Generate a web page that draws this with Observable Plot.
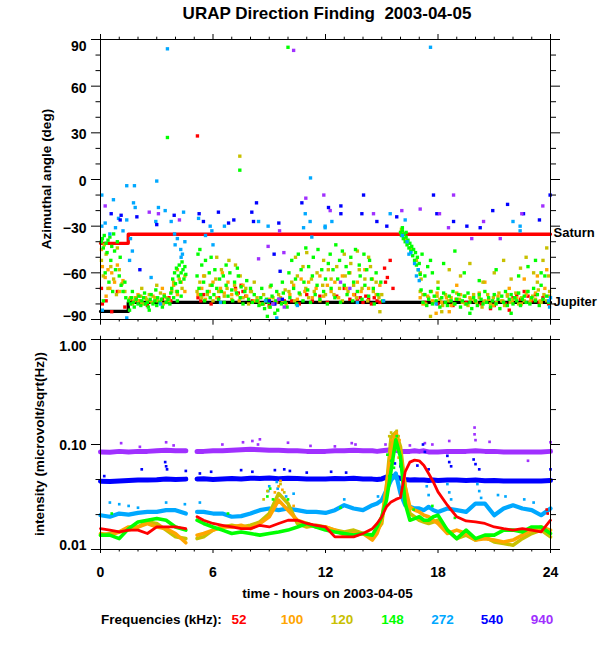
<!DOCTYPE html>
<html>
<head>
<meta charset="utf-8">
<script src="https://cdn.jsdelivr.net/npm/d3@7"></script>
<script src="https://cdn.jsdelivr.net/npm/@observablehq/plot@0.6"></script>
<style>
  html, body { margin: 0; padding: 0; background: white; }
  #wrap { position: relative; width: 600px; height: 650px; overflow: hidden; background: white;
          font-family: "Liberation Sans", Arial, sans-serif; color: black; }
  #title { position: absolute; left: 0; width: 654px; top: 5px; text-align: center; font-size: 17px;
           font-weight: bold; line-height: 17px; white-space: pre; z-index: 2; }
  #toppanel { position: absolute; left: 0; top: 0; }
  #bottompanel { position: absolute; left: 0; top: 330px; }
  #legend { position: absolute; left: 0; top: 612px; width: 600px; height: 16px; font-size: 13.5px; font-weight: bold; line-height: 16px; z-index: 2; }
  #legend span { position: absolute; top: 0; white-space: pre; }
  .ylab { position: absolute; font-size: 13.5px; font-weight: bold; line-height: 16px; white-space: pre;
          transform: translate(-50%, -50%) rotate(-90deg); z-index: 2; }
</style>
</head>
<body>
<div id="wrap">
  <div id="toppanel"></div>
  <div id="bottompanel"></div>
  <div id="title"></div>
  <div id="ylabtop" class="ylab" style="left:47px; top:179px;"></div>
  <div id="ylabbottom" class="ylab" style="left:39.5px; top:444px;"></div>
  <div id="legend"></div>
</div>
<script>
(function () {
const titleText = "URAP Direction Finding  2003-04-05";
const xLabel = "time - hours on 2003-04-05";
const yLabelTop = "Azimuthal angle (deg)";
const yLabelBottom = "intensity (microvolt/sqrt(Hz))";
const legendTitle = "Frequencies (kHz):";

const freqs = ["52", "100", "120", "148", "272", "540", "940"];
const colors = ["#ff0000", "#ffa500", "#c8c000", "#00ff00", "#00a8ff", "#0000ff", "#a030ff"];

const hourTicks = [0, 6, 12, 18, 24];
const hourMinor = [1,2,3,4,5,7,8,9,10,11,13,14,15,16,17,19,20,21,22,23];
const angleTicks = [-90, -60, -30, 0, 30, 60, 90];
const angleMinor = [-80,-70,-50,-40,-20,-10,10,20,40,50,70,80];
const intensityTicks = [0.01, 0.1, 1];
const intensityMinor = [0.0215, 0.0464, 0.215, 0.464];

// planet directions
const planetT = [0, 1.48, 24];
const saturnA = [-41, -35.2, -35.2];
const jupiterA = [-84.8, -79, -79];

// azimuth points [hour, angle] per frequency
const az52 = [[0.05,-70],[0.1,-80],[0.3,-78],[0.6,-85],[0.9,-72],[1.3,-82],[1.6,-77],[1.75,-79],[1.9,-76],[2.05,-78],[2.5,-81],[3.3,-77],[3.5,-79],[3.65,-76],[3.75,-78],[5.17,28],[5.2,-76],[5.35,-78],[5.5,-74],[5.9,-80],[6.3,-76],[7.2,-70],[7.35,-73],[7.5,-68],[7.6,-72],[7.75,-75],[8.1,-78],[8.6,-80],[9.0,-81],[9.4,-79],[9.8,-78],[10.2,-78],[10.6,-80],[11.0,-74],[11.3,-78],[11.7,-75],[12.1,-79],[12.6,-75],[13.0,-70],[13.3,-77],[13.55,-74],[13.7,-78],[13.85,-76],[14.0,-79],[14.15,-75],[14.3,-77],[14.45,-80],[14.6,-76],[14.75,-78],[14.9,-79],[15.15,-57],[15.3,-63],[15.45,-52],[15.6,-70],[15.2,-66],[17.3,-79],[18.0,-80],[18.8,-81],[19.5,-79],[20.3,-80],[20.8,-83],[21.0,-81],[21.6,-80],[21.8,-84],[22.0,-76],[22.2,-74],[22.4,-77],[22.6,-72],[22.8,-75],[23.0,-78],[23.2,-74],[23.4,-79],[23.6,-76],[23.9,-80]];

const az100 = [[0.05,-45],[0.1,-56],[0.25,-63],[0.3,-75],[0.4,-58],[0.5,-70],[0.6,-60],[0.75,-66],[0.9,-55],[1.0,-72],[1.2,-65],[1.6,-76],[1.8,-78],[2.0,-74],[2.2,-79],[2.4,-76],[2.6,-78],[2.8,-75],[3.0,-77],[3.2,-79],[3.3,-70],[3.4,-74],[3.6,-77],[3.9,-68],[4.1,-74],[4.3,-66],[4.5,-72],[5.2,-74],[5.4,-70],[5.5,-62],[5.6,-77],[5.8,-72],[6.0,-66],[6.2,-76],[6.4,-70],[6.5,-60],[6.6,-73],[6.8,-66],[7.0,-74],[7.2,-71],[7.4,-78],[7.6,-68],[7.8,-75],[8.0,-72],[8.2,-78],[8.4,-78],[8.7,-80],[9.0,-77],[9.3,-79],[9.6,-76],[9.9,-80],[10.1,-74],[10.3,-68],[10.5,-77],[10.7,-64],[10.9,-72],[11.1,-66],[11.3,-76],[11.5,-70],[11.7,-62],[11.9,-75],[12.1,-68],[12.3,-72],[12.5,-66],[12.7,-76],[12.9,-62],[13.1,-70],[13.3,-60],[13.5,-74],[13.7,-66],[13.9,-72],[14.1,-58],[14.3,-70],[14.5,-64],[14.7,-74],[14.9,-68],[17.05,-76],[17.2,-80],[17.45,-75],[17.7,-78],[17.9,-86],[17.95,-73],[18.2,-79],[18.45,-76],[18.6,-85],[18.7,-81],[18.95,-77],[19.0,-68],[19.2,-74],[19.45,-80],[19.7,-76],[19.95,-78],[20.2,-73],[20.45,-79],[20.5,-66],[20.7,-77],[20.95,-81],[21.2,-75],[21.45,-78],[21.7,-74],[21.8,-70],[21.95,-79],[22.2,-76],[22.45,-80],[22.6,-64],[22.7,-74],[22.95,-77],[23.2,-73],[23.3,-62],[23.45,-78],[23.7,-70],[23.8,-58],[23.95,-75]];

const az120 = [[0.05,-52],[0.15,-62],[0.2,-42],[0.3,-48],[0.4,-70],[0.55,-56],[0.7,-64],[0.85,-74],[0.9,-44],[1.0,-58],[1.15,-67],[1.3,-72],[1.55,-77],[1.7,-80],[1.85,-76],[2.0,-78],[2.15,-75],[2.2,-70],[2.3,-80],[2.45,-77],[2.6,-74],[2.75,-79],[2.9,-76],[3.0,-68],[3.05,-78],[3.2,-73],[3.35,-80],[3.5,-76],[3.65,-78],[3.8,-72],[3.9,-66],[4.05,-72],[4.1,-58],[4.2,-64],[4.35,-70],[4.5,-62],[5.15,-72],[5.3,-66],[5.4,-76],[5.55,-62],[5.7,-74],[5.85,-68],[6.0,-78],[6.15,-64],[6.2,-50],[6.3,-72],[6.45,-58],[6.6,-75],[6.75,-70],[6.85,-52],[7.0,-77],[7.15,-68],[7.2,-55],[7.3,-74],[7.43,15],[7.45,-62],[7.6,-76],[7.75,-70],[7.9,-80],[8.05,-72],[8.2,-66],[8.35,-76],[8.5,-80],[8.7,-74],[8.85,-78],[9.0,-82],[9.05,-69],[9.2,-76],[9.35,-79],[9.5,-74],[9.7,-78],[9.85,-71],[10.05,-72],[10.2,-66],[10.35,-78],[10.4,-50],[10.5,-62],[10.65,-74],[10.8,-56],[10.95,-70],[11.0,-47],[11.1,-76],[11.25,-64],[11.4,-72],[11.55,-60],[11.7,-78],[11.85,-68],[11.9,-52],[12.0,-74],[12.15,-58],[12.3,-64],[12.45,-74],[12.6,-56],[12.75,-70],[12.9,-78],[13.0,-48],[13.05,-62],[13.2,-72],[13.35,-54],[13.5,-68],[13.65,-76],[13.7,-46],[13.8,-58],[13.95,-70],[14.1,-64],[14.25,-78],[14.3,-50],[14.4,-56],[14.55,-72],[14.7,-66],[14.85,-76],[14.9,-85],[15.0,-74],[16.05,-32],[16.25,-38],[16.55,-44],[16.85,-52],[17.05,-60],[17.05,-72],[17.1,-64],[17.2,-74],[17.35,-80],[17.5,-76],[17.6,-88],[17.65,-72],[17.8,-79],[17.95,-75],[18.0,-66],[18.1,-77],[18.2,-85],[18.25,-81],[18.4,-74],[18.55,-78],[18.6,-58],[18.7,-76],[18.85,-80],[19.0,-73],[19.15,-77],[19.2,-62],[19.3,-79],[19.45,-75],[19.6,-81],[19.7,-54],[19.75,-77],[19.9,-74],[20.05,-79],[20.2,-76],[20.35,-82],[20.4,-66],[20.5,-78],[20.65,-74],[20.8,-80],[20.95,-76],[21.0,-60],[21.1,-79],[21.25,-73],[21.4,-78],[21.5,-52],[21.55,-81],[21.7,-75],[21.85,-79],[21.9,-64],[22.0,-77],[22.15,-73],[22.3,-80],[22.4,-57],[22.45,-76],[22.6,-78],[22.7,-50],[22.75,-72],[22.9,-79],[23.05,-75],[23.1,-60],[23.2,-77],[23.3,-66],[23.35,-71],[23.5,-79],[23.6,-52],[23.65,-74],[23.8,-78],[23.8,-44],[23.9,-62],[23.95,-72]];

const az148 = [[0.05,-40],[0.1,-38],[0.15,-44],[0.2,-36],[0.3,-41],[0.35,-47],[0.4,-39],[0.5,-37],[0.55,-52],[0.6,-43],[0.7,-35],[0.75,-46],[0.8,-58],[0.9,-40],[1.0,-62],[1.05,-50],[1.1,-68],[1.2,-72],[1.3,-66],[1.35,-76],[0.25,-60],[0.45,-66],[0.65,-72],[0.15,-78],[1.5,-78],[1.6,-80],[1.65,-76],[1.75,-79],[1.8,-82],[1.9,-77],[2.0,-80],[2.05,-75],[2.15,-81],[2.2,-78],[2.3,-76],[2.4,-80],[2.5,-79],[2.55,-82],[2.65,-77],[2.7,-74],[2.8,-80],[2.9,-78],[3.0,-81],[3.05,-76],[3.15,-79],[3.25,-77],[3.3,-82],[3.4,-75],[3.5,-79],[3.6,-77],[3.7,-80],[3.75,-73],[1.7,-72],[2.35,-73],[2.95,-71],[1.55,-84],[2.6,-84],[3.57,27],[3.8,-70],[3.85,-64],[3.9,-76],[3.95,-60],[4.0,-67],[4.05,-57],[4.1,-72],[4.15,-62],[4.2,-55],[4.25,-66],[4.3,-60],[4.35,-53],[4.4,-58],[4.45,-64],[4.5,-56],[4.55,-61],[4.1,-78],[4.3,-75],[5.15,-62],[5.2,-48],[5.25,-70],[5.3,-45],[5.35,-74],[5.4,-55],[5.5,-66],[5.55,-78],[5.6,-52],[5.7,-72],[5.8,-60],[5.85,-76],[5.95,-68],[6.05,-74],[6.1,-58],[6.2,-70],[6.3,-77],[6.35,-64],[6.45,-72],[6.55,-62],[6.6,-79],[6.7,-68],[6.8,-75],[6.9,-60],[7.0,-71],[7.05,-78],[7.15,-66],[7.25,-73],[7.35,-62],[7.45,-76],[7.5,-69],[7.6,-80],[7.7,-72],[7.8,-65],[7.9,-77],[8.0,-70],[8.1,-79],[8.2,-74],[5.9,-50],[6.7,-55],[7.3,-57],[7.43,6],[8.35,-78],[8.45,-81],[8.55,-76],[8.65,-80],[8.75,-83],[8.85,-77],[8.95,-79],[9.05,-82],[9.15,-75],[9.25,-80],[9.35,-78],[9.45,-84],[9.55,-77],[9.65,-80],[9.75,-73],[9.85,-79],[9.95,-82],[8.6,-70],[9.1,-68],[9.4,-72],[9.7,-66],[8.9,-88],[9.3,-86],[10.0,85],[10.05,-60],[10.1,-76],[10.2,-52],[10.3,-70],[10.4,-64],[10.45,-80],[10.55,-48],[10.6,-73],[10.7,-58],[10.8,-78],[10.85,-66],[10.95,-44],[11.05,-71],[11.1,-56],[11.2,-79],[11.3,-62],[11.35,-50],[11.45,-74],[11.55,-68],[11.6,-45],[11.7,-77],[11.8,-58],[11.9,-72],[12.0,-64],[12.1,-80],[12.15,-54],[12.25,-48],[12.3,-70],[12.4,-58],[12.5,-76],[12.55,-42],[12.65,-64],[12.75,-52],[12.8,-79],[12.9,-46],[13.0,-68],[13.1,-56],[13.15,-74],[13.25,-60],[13.35,-50],[13.45,-78],[13.5,-66],[13.6,-45],[13.7,-72],[13.8,-55],[13.85,-62],[13.95,-77],[14.05,-48],[14.1,-68],[14.2,-58],[14.3,-75],[14.35,-52],[14.45,-64],[14.55,-70],[14.6,-80],[14.7,-60],[14.8,-74],[14.95,-66],[15.05,-78],[16.0,-34],[16.05,-36],[16.1,-33],[16.1,-31],[16.15,-38],[16.2,-35],[16.25,-40],[16.3,-37],[16.3,-34],[16.35,-42],[16.4,-39],[16.45,-44],[16.5,-41],[16.55,-46],[16.6,-43],[16.65,-49],[16.7,-45],[16.75,-52],[16.8,-47],[16.85,-55],[16.9,-50],[16.95,-58],[17.0,-54],[17.05,-61],[17.15,-48],[17.3,-62],[17.45,-56],[17.6,-52],[17.7,-60],[17.1,-71],[17.2,-79],[17.3,-74],[17.4,-81],[17.5,-77],[17.6,-72],[17.7,-80],[17.8,-75],[17.9,-78],[18.0,-70],[18.1,-82],[18.2,-76],[18.3,-73],[18.3,-54],[18.4,-79],[18.5,-81],[18.6,-75],[18.7,-78],[18.8,-72],[18.9,-46],[18.9,-80],[19.0,-77],[19.1,-74],[19.2,-82],[19.3,-78],[19.4,-75],[19.4,-60],[19.5,-80],[19.6,-73],[19.7,-79],[19.7,-86],[19.8,-83],[19.9,-76],[20.0,-78],[20.1,-81],[20.2,-74],[20.2,-65],[20.3,-77],[20.4,-80],[20.5,-72],[20.6,-79],[20.7,-76],[20.8,-82],[20.9,-78],[21.0,-74],[21.1,-80],[21.1,-58],[21.2,-77],[21.3,-83],[21.4,-75],[21.5,-79],[21.6,-72],[21.7,-81],[21.8,-77],[21.9,-74],[21.9,-86],[22.0,-80],[22.1,-76],[22.2,-78],[22.3,-73],[22.3,-62],[22.4,-81],[22.5,-77],[22.6,-75],[22.7,-79],[22.8,-72],[22.8,-56],[22.9,-80],[23.0,-76],[23.1,-70],[23.2,-78],[23.2,-52],[23.3,-74],[23.4,-81],[23.5,-68],[23.5,-60],[23.6,-77],[23.7,-62],[23.8,-75],[23.9,-79]];

const az272 = [[0.07,-10],[0.69,-13],[0.25,-28],[0.07,-30],[0.96,-25],[1.4,-26],[1.4,-4],[1.81,-4],[1.76,-15],[1.85,-18],[0.5,-35],[0.8,-31],[1.2,-33],[1.6,-38],[1.7,-46],[1.55,-52],[0.1,-84],[1.4,-89],[2.95,-27],[3.0,-1],[3.09,-18],[3.45,-20],[3.57,84],[3.77,-27],[3.95,-35],[3.98,-42],[4.1,-38],[4.28,-45],[4.37,-48],[4.3,-50],[4.43,-21],[4.5,-40],[3.2,-80],[2.7,-63],[5.23,-25],[5.6,-36],[5.85,-30],[5.94,-33],[6.0,-42],[6.4,-79],[6.61,-30],[8.43,-27],[8.8,-78],[8.94,-30],[9.2,-80],[9.4,-89],[9.5,-77],[10.5,-81],[10.83,-31],[10.92,-22],[11.18,-27],[11.2,1],[11.27,-37],[11.98,-30],[12.34,-27],[11.98,-31],[13.7,-79],[15.1,-78],[15.45,-22],[16.25,-26],[16.1,-36],[16.35,-40],[16.45,-48],[16.55,-47],[16.75,-54],[16.85,-62],[16.95,-58],[17.0,-65],[17.6,85],[17.9,-80],[22.0,-27],[22.38,-30],[22.38,-33],[23.9,-78],[23.95,-82],[24.0,-76]];

const az540 = [[0.57,-22],[1.05,-26],[1.1,-23],[1.94,-24],[2.1,-58],[3.0,-29],[3.93,-23],[5.26,-22],[5.49,-27],[6.29,-21],[6.83,-28],[7.11,-26],[8.07,-21],[8.16,-27],[8.32,-15],[9.0,-78],[9.26,-48],[9.3,-80],[9.51,-28],[9.58,-59],[9.7,-77],[10.74,-15],[12.16,-18],[12.82,-17],[12.82,-22],[13.94,-22],[14.03,-10],[14.74,-27],[15.27,-30],[15.8,-24],[17.76,-10],[17.94,-22],[18.83,-27],[19.54,-30],[20.25,-31],[20.92,-20],[21.71,-16],[22.56,-22],[23.41,-26],[23.98,-10]];

const az940 = [[0.25,-17],[2.6,-21],[3.09,-22],[4.21,-26],[8.43,-51],[8.94,-43],[9.2,-80],[9.5,-77],[9.55,-33],[9.78,-47],[9.8,-82],[10.3,83],[10.95,-12],[11.91,-10],[12.25,-20],[12.8,-66],[13.3,-70],[14.56,-22],[16.07,-20],[17.05,-19],[18.08,-22],[18.56,-31],[18.83,-10],[19.8,-38],[20.43,-27],[21.32,-38],[22.47,-22],[23.59,-17]];

// intensity time grid (hours) and values per frequency (NaN = data gap)
const hours = [0,0.5,1,1.5,2,2.5,3,3.5,4,4.55,4.85,5.15,5.5,6,6.5,7,7.5,8,8.5,9,9.5,10,10.5,11,11.5,12,12.5,13,13.5,14,14.5,14.75,15,15.25,15.5,15.75,16,16.25,16.5,16.75,17,17.25,17.5,17.75,18,18.5,19,19.5,20,20.5,21,21.5,22,22.5,23,23.5,24];
const int52 = [0.0158,0.0153,0.0147,0.0153,0.0153,0.0142,0.0164,0.0164,0.0164,0.0158,NaN,0.0205,0.0190,0.0177,0.0170,0.0164,0.0158,0.0158,0.0170,0.0164,0.0177,0.0190,0.0190,0.0177,0.0170,0.0164,0.0132,0.0132,0.0132,0.0142,0.0158,0.0177,0.0205,0.0255,0.0284,0.0300,0.0313,0.0550,0.0680,0.0710,0.0700,0.0630,0.0530,0.0440,0.0354,0.0264,0.0205,0.0187,0.0183,0.0177,0.0164,0.0158,0.0153,0.0158,0.0153,0.0147,0.0190];
const int100 = [0.0142,0.0137,0.0147,0.0164,0.0164,0.0177,0.0164,0.0158,0.0142,0.0116,NaN,0.0137,0.0142,0.0153,0.0164,0.0164,0.0170,0.0158,0.0177,0.0205,0.0295,0.0237,0.0190,0.0177,0.0164,0.0164,0.0153,0.0137,0.0142,0.0142,0.0123,0.0142,0.0190,0.0395,0.0880,0.127,0.082,0.0395,0.0255,0.0237,0.0228,0.0212,0.0205,0.0190,0.0177,0.0142,0.0153,0.0142,0.0123,0.0127,0.0123,0.0118,0.0123,0.0137,0.0153,0.0164,0.0153];
const int120 = [0.0137,0.0142,0.0147,0.0153,0.0164,0.0183,0.0177,0.0153,0.0132,0.0127,NaN,0.0127,0.0132,0.0153,0.0164,0.0170,0.0164,0.0170,0.0183,0.0220,0.0341,0.0274,0.0177,0.0164,0.0170,0.0164,0.0153,0.0147,0.0153,0.0142,0.0132,0.0153,0.0177,0.0395,0.118,0.131,0.095,0.0395,0.0220,0.0205,0.0190,0.0183,0.0177,0.0183,0.0190,0.0153,0.0127,0.0137,0.0123,0.0132,0.0118,0.0114,0.0110,0.0127,0.0142,0.0153,0.0132];
const int148 = [0.0137,0.0137,0.0127,0.0158,0.0183,0.0190,0.0197,0.0190,0.0164,0.0153,NaN,0.0190,0.0177,0.0164,0.0153,0.0142,0.0147,0.0142,0.0137,0.0142,0.0147,0.0153,0.0164,0.0177,0.0164,0.0153,0.0147,0.0142,0.0137,0.0142,0.0137,0.0164,0.0205,0.0295,0.0569,0.111,0.0759,0.0274,0.0190,0.0197,0.0205,0.0190,0.0190,0.0205,0.0212,0.0153,0.0127,0.0153,0.0127,0.0137,0.0137,0.0153,0.0153,0.0147,0.0164,0.0164,0.0142];
const int272 = [0.0212,0.0205,0.0220,0.0215,0.0223,0.0228,0.0228,0.0237,0.0237,0.0220,NaN,0.0228,0.0228,0.0220,0.0220,0.0205,0.0208,0.0220,0.0237,0.0246,0.0237,0.0246,0.0237,0.0228,0.0228,0.0223,0.0237,0.0264,0.0246,0.0237,0.0264,0.0274,0.0295,0.0367,0.0457,0.0529,0.0341,0.0264,0.0255,0.0246,0.0246,0.0237,0.0255,0.0237,0.0228,0.0246,0.0237,0.0228,0.0274,0.0274,0.0212,0.0246,0.0264,0.0246,0.0237,0.0212,0.0246];
const int540 = [0.0447,0.0445,0.0450,0.0455,0.0460,0.0458,0.0462,0.0470,0.0465,0.0468,NaN,0.0470,0.0472,0.0465,0.0470,0.0475,0.0470,0.0478,0.0475,0.0480,0.0472,0.0478,0.0475,0.0470,0.0468,0.0470,0.0475,0.0472,0.0478,0.0470,0.0468,0.0465,0.0470,0.0490,0.0500,0.0490,0.0475,0.0465,0.0460,0.0462,0.0458,0.0460,0.0455,0.0458,0.0455,0.0460,0.0458,0.0455,0.0460,0.0452,0.0455,0.0450,0.0448,0.0450,0.0448,0.0450,0.0455];
const int940 = [0.0850,0.0845,0.0860,0.0850,0.0860,0.0860,0.0870,0.0880,0.0870,0.0870,NaN,0.0860,0.0860,0.0870,0.0870,0.0880,0.0890,0.0900,0.0890,0.0880,0.0880,0.0870,0.0870,0.0860,0.0860,0.0860,0.0870,0.0870,0.0880,0.0870,0.0870,0.0860,0.0870,0.0880,0.0890,0.0880,0.0860,0.0860,0.0860,0.0870,0.0860,0.0870,0.0850,0.0850,0.0850,0.0860,0.0860,0.0860,0.0870,0.0860,0.0860,0.0850,0.0850,0.0850,0.0850,0.0850,0.0860];

// scattered intensity samples above/below the bands [hour, value]
const spk52 = [[23.8,0.024],[23.85,0.022]];
const spk100 = [[9.3,0.035],[9.5,0.04],[9.6,0.045],[9.7,0.037],[10.3,0.026],[15.5,0.11],[15.65,0.12],[15.8,0.13],[15.95,0.11],[15.6,0.07],[15.9,0.075]];
const spk120 = [[8.7,0.03],[8.9,0.036],[9.6,0.042],[9.8,0.035],[15.4,0.12],[15.5,0.13],[15.6,0.125],[15.7,0.11],[15.8,0.135],[15.9,0.12],[15.45,0.1],[15.75,0.09]];
const spk148 = [[0.6,0.022],[6.8,0.022],[8.9,0.032],[9.05,0.038],[9.2,0.03],[10.0,0.03],[12.8,0.025],[15.3,0.08],[15.4,0.05],[15.5,0.07],[15.65,0.06],[15.8,0.12],[15.9,0.09],[16.0,0.065],[16.7,0.024],[17.7,0.026],[18.9,0.02]];
const spk272 = [[0.5,0.028],[1.0,0.027],[1.5,0.026],[2.0,0.025],[3.5,0.028],[4.5,0.027],[5.3,0.028],[8.95,0.036],[9.0,0.04],[9.4,0.044],[9.45,0.038],[9.9,0.032],[10.3,0.034],[13.0,0.03],[14.8,0.032],[16.1,0.045],[16.2,0.038],[17.4,0.04],[17.5,0.033],[18.5,0.042],[18.6,0.035],[18.7,0.03],[20.1,0.042],[20.2,0.036],[20.3,0.031],[21.2,0.033],[21.6,0.032],[22.6,0.03],[23.1,0.028]];
const spk540 = [[0.2,0.05],[2.2,0.058],[3.45,0.068],[3.5,0.062],[3.55,0.058],[4.55,0.056],[5.3,0.053],[5.9,0.055],[7.5,0.057],[8.1,0.055],[9.3,0.057],[9.8,0.058],[10.1,0.056],[11.0,0.054],[12.3,0.055],[13.1,0.054],[15.5,0.06],[15.7,0.066],[16.0,0.062],[16.9,0.063],[17.2,0.1],[17.3,0.085],[17.5,0.058],[18.5,0.078],[18.6,0.068],[18.7,0.062],[19.9,0.072],[20.0,0.065],[20.2,0.058],[24.0,0.058]];
const spk940 = [[1.1,0.103],[2.1,0.095],[3.5,0.105],[3.9,0.098],[6.5,0.1],[7.6,0.105],[8.1,0.108],[8.4,0.1],[8.5,0.112],[10.0,0.104],[11.2,0.097],[12.5,0.096],[13.4,0.103],[13.6,0.1],[15.2,0.1],[16.5,0.098],[17.3,0.103],[17.7,0.1],[18.6,0.108],[19.95,0.145],[19.95,0.125],[20.0,0.11],[20.75,0.106],[22.8,0.07],[24.0,0.105]];

const azBy = {"52": az52, "100": az100, "120": az120, "148": az148, "272": az272, "540": az540, "940": az940};
const intBy = {"52": int52, "100": int100, "120": int120, "148": int148, "272": int272, "540": int540, "940": int940};
const spkBy = {"52": spk52, "100": spk100, "120": spk120, "148": spk148, "272": spk272, "540": spk540, "940": spk940};

const font = "'Liberation Sans', Arial, Helvetica, sans-serif";
const colorScale = {domain: freqs, range: colors};
const chartStyle = {fontFamily: font, fontSize: "13.5px", fontWeight: "bold", background: "white", color: "black", overflow: "visible"};

// ---------- top panel ----------
const azRows = freqs.flatMap(f => azBy[f].map(([t, a]) => ({t, a, f})));
const planets = planetT.map((t, i) => ({t, s: saturnA[i], j: jupiterA[i]}));
const tickOnly = () => "";

const topChart = Plot.plot({
  width: 600, height: 330,
  marginLeft: 100, marginRight: 50, marginTop: 39, marginBottom: 11,
  x: {domain: [0, 24]},
  y: {domain: [-90, 90]},
  color: colorScale,
  style: chartStyle,
  marks: [
    Plot.line(planets, {x: "t", y: "s", curve: "step-after", stroke: "#ff0000", strokeWidth: 3.3}),
    Plot.line(planets, {x: "t", y: "j", curve: "step-after", stroke: "black", strokeWidth: 3.3}),
    Plot.dot(azRows, {x: "t", y: "a", fill: "f", r: 1.9, symbol: "square"}),
    Plot.frame({stroke: "black"}),
    Plot.axisY(angleTicks, {anchor: "left", tickSize: 9, tickFormat: tickOnly, label: null}),
    Plot.axisY(angleMinor, {anchor: "left", tickSize: 4.5, tickFormat: tickOnly, label: null}),
    Plot.axisY(angleTicks, {anchor: "right", tickSize: 9, tickFormat: tickOnly, label: null}),
    Plot.axisY(angleMinor, {anchor: "right", tickSize: 5, tickFormat: tickOnly, label: null}),
    Plot.axisY([90], {anchor: "left", tickSize: 0, tickPadding: 14, dy: 6.7, fontSize: 14, label: null}),
    Plot.axisY([60, 30, 0, -30, -60], {anchor: "left", tickSize: 0, tickPadding: 14, dy: 2, fontSize: 14, label: null}),
    Plot.axisY([-90], {anchor: "left", tickSize: 0, tickPadding: 14, dy: -3, fontSize: 14, label: null}),
    Plot.axisX(hourTicks, {anchor: "top", tickSize: 6, tickFormat: tickOnly, label: null}),
    Plot.axisX(hourMinor, {anchor: "top", tickSize: 3.3, tickFormat: tickOnly, label: null}),
    Plot.axisX(hourTicks, {anchor: "bottom", tickSize: 5.7, tickFormat: tickOnly, label: null}),
    Plot.axisX(hourMinor, {anchor: "bottom", tickSize: 2.5, tickFormat: tickOnly, label: null}),
    Plot.text(["Saturn"], {x: [24], y: [saturnA[saturnA.length - 1]], text: d => d, textAnchor: "start", dx: 3, dy: -1, fontSize: 13}),
    Plot.text(["Jupiter"], {x: [24], y: [jupiterA[jupiterA.length - 1]], text: d => d, textAnchor: "start", dx: 3, dy: -1, fontSize: 13})
  ]
});
document.getElementById("toppanel").appendChild(topChart);

// ---------- bottom panel ----------
const drawOrder = ["940", "540", "272", "120", "100", "148", "52"];
const widths = {"940": 5, "540": 5, "272": 4.2, "120": 3.6, "100": 3.6, "148": 3.6, "52": 2.8};
const lineMarks = [];
for (const f of drawOrder) {
  const rows = hours.map((t, i) => ({t, v: intBy[f][i], f}));
  lineMarks.push(Plot.line(rows, {x: "t", y: "v", stroke: "f", strokeWidth: widths[f]}));
  const sp = spkBy[f].map(([t, v]) => ({t, v, f}));
  lineMarks.push(Plot.dot(sp, {x: "t", y: "v", fill: "f", r: 1.5, symbol: "square"}));
}

const bottomChart = Plot.plot({
  width: 600, height: 320,
  marginLeft: 100, marginRight: 50, marginTop: 9, marginBottom: 101,
  x: {domain: [0, 24]},
  y: {type: "log", domain: [0.01, 1]},
  color: colorScale,
  style: chartStyle,
  marks: [
    ...lineMarks,
    Plot.frame({stroke: "black"}),
    Plot.axisY(intensityTicks, {anchor: "left", tickSize: 9, tickFormat: tickOnly, label: null}),
    Plot.axisY(intensityMinor, {anchor: "left", tickSize: 4.5, tickFormat: tickOnly, label: null}),
    Plot.axisY(intensityTicks, {anchor: "right", tickSize: 9, tickFormat: tickOnly, label: null}),
    Plot.axisY(intensityMinor, {anchor: "right", tickSize: 5, tickFormat: tickOnly, label: null}),
    Plot.axisY([1], {anchor: "left", tickSize: 0, tickPadding: 14, dy: 6.7, tickFormat: ".2f", fontSize: 14, label: null}),
    Plot.axisY([0.1], {anchor: "left", tickSize: 0, tickPadding: 14, dy: 0.7, tickFormat: ".2f", fontSize: 14, label: null}),
    Plot.axisY([0.01], {anchor: "left", tickSize: 0, tickPadding: 14, dy: -4.3, tickFormat: ".2f", fontSize: 14, label: null}),
    Plot.axisX(hourTicks, {anchor: "top", tickSize: 4.3, tickFormat: tickOnly, label: null}),
    Plot.axisX(hourMinor, {anchor: "top", tickSize: 2.7, tickFormat: tickOnly, label: null}),
    Plot.axisX(hourTicks, {anchor: "bottom", tickSize: 4, tickFormat: tickOnly, label: null}),
    Plot.axisX(hourMinor, {anchor: "bottom", tickSize: 2.5, tickFormat: tickOnly, label: null}),
    Plot.axisX(hourTicks, {anchor: "bottom", tickSize: 0, tickPadding: 18, fontSize: 14, label: null}),
    Plot.text([xLabel], {frameAnchor: "bottom", dx: 2, dy: 43.7, fontSize: 13.5, lineAnchor: "middle"})
  ]
});
document.getElementById("bottompanel").appendChild(bottomChart);

// ---------- titles & legend ----------
document.getElementById("title").textContent = titleText;
document.getElementById("ylabtop").textContent = yLabelTop;
document.getElementById("ylabbottom").textContent = yLabelBottom;
const legend = document.getElementById("legend");
const lt = document.createElement("span");
lt.textContent = legendTitle;
lt.style.left = "101px";
legend.appendChild(lt);
const legendCenters = [239, 292, 342, 392.5, 442.6, 492, 542];
freqs.forEach((f, i) => {
  const s = document.createElement("span");
  s.textContent = f;
  s.style.color = colors[i];
  s.style.left = legendCenters[i] + "px";
  s.style.transform = "translateX(-50%)";
  legend.appendChild(s);
});
})();
</script>
</body>
</html>
